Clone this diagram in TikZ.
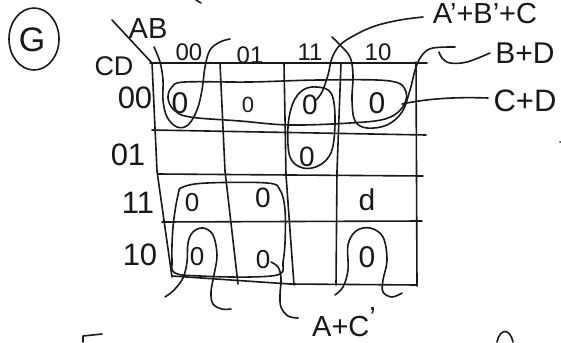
\documentclass[tikz,border=0pt]{standalone}
\usepackage{fontspec}
\setmainfont{Liberation Sans}
\begin{document}
\begin{tikzpicture}[x=1pt,y=-1pt]
\tikzset{
  hand/.style={line width=1.6pt, line cap=round, line join=round, draw=black!90},
  txt/.style={inner sep=0pt, outer sep=0pt, text=black!90},
  fs/.style={font=\fontsize{#1}{#1}\selectfont},
}
\useasboundingbox[fill=white] (0,0) rectangle (561,342);

% circled G
\draw[hand] (34,39) ellipse (25 and 31);
\node[txt,fs=34] (g) at (32,40) {G};

% header diagonal and labels
\draw[hand] (112,20) -- (152,63);
\node[txt,fs=29] (ab) at (148,29) {AB};
\node[txt,fs=27] (cd) at (114,66) {CD};

% column labels
\node[txt,fs=24] (c00) at (189,52) {00};
\node[txt,fs=24] (c01) at (250,55) {01};
\node[txt,fs=24] (c11) at (310,52) {11};
\node[txt,fs=24] (c10) at (378,52) {10};
% row labels
\node[txt,fs=31] (r00) at (135,98) {00};
\node[txt,fs=31] (r01) at (128,155) {01};
\node[txt,fs=31] (r11) at (138,203) {11};
\node[txt,fs=31] (r10) at (140,255) {10};

% grid
\draw[hand] (150,63) -- (427,63);
\draw[hand] (152,130) -- (426,135);
\draw[hand] (158,174) -- (423,176);
\draw[hand] (162,222) -- (422,221);
\draw[hand] (172,276) -- (290,284) -- (417,285);
\draw[hand] (152,63) -- (157,171) -- (172,277);
\draw[hand] (220,63) -- (225,171) -- (238,284);
\draw[hand] (284,63) -- (286,175) -- (294,285);
\draw[hand] (341,63) -- (337,171) -- (336,285);
\draw[hand] (416,62) -- (417,286);

% cell values
\node[txt,fs=30] (v1) at (180,103) {0};
\node[txt,fs=22] (v2) at (248,105) {0};
\node[txt,fs=28] (v3) at (310,105) {0};
\node[txt,fs=30] (v4) at (377,103) {0};
\node[txt,fs=28] (v5) at (307,157) {0};
\node[txt,fs=26] (v6) at (192,203) {0};
\node[txt,fs=28] (v7) at (263,198) {0};
\node[txt,fs=30] (v8) at (367,200) {d};
\node[txt,fs=26] (v9) at (197,257) {0};
\node[txt,fs=26] (v10) at (263,260) {0};
\node[txt,fs=30] (v11) at (367,257) {0};

% C+D loop and leader
\draw[hand] plot[smooth cycle, tension=0.6] coordinates {(185,82) (250,82) (320,80) (390,81) (406,92) (402,108) (385,119) (350,123) (290,125) (240,121) (190,117) (174,110) (168,98) (172,87)};
\draw[hand] (402,104) .. controls (430,98) and (460,97) .. (488,98);
\node[txt,fs=31] (lcd) at (525,101) {C+D};

% B+D corner loops
\draw[hand] plot[smooth, tension=0.6] coordinates {(154,47) (160,62) (163,80) (163,100) (167,117) (177,127) (188,125) (197,110) (202,90) (205,67) (210,50) (220,42) (230,39)};
\draw[hand] plot[smooth, tension=0.6] coordinates {(332,37) (340,45) (350,57) (353,75) (352,100) (355,121) (367,128) (387,125) (402,112) (410,90) (416,67) (423,54) (433,48) (455,47)};
\draw[hand] plot[smooth, tension=0.6] coordinates {(165,297) (174,290) (183,278) (187,262) (188,243) (193,232) (203,228) (213,235) (217,255) (214,275) (211,292) (213,304) (222,309) (231,309)};
\draw[hand] plot[smooth, tension=0.6] coordinates {(335,295) (343,287) (348,270) (348,245) (356,231) (370,228) (383,237) (387,260) (383,280) (383,292) (392,297) (402,293)};
\draw[hand] plot[smooth, tension=0.6] coordinates {(439,52) (442,58) (450,63) (467,62) (490,53)};
\node[txt,fs=30] (lbd) at (525,53) {B+D};

% A'+B'+C loop and leader
\draw[hand] plot[smooth cycle, tension=0.6] coordinates {(317,87) (331,93) (335,117) (332,150) (320,165) (303,168) (290,157) (288,127) (293,103) (303,90)};
\draw[hand] plot[smooth, tension=0.6] coordinates {(423,17) (400,20) (375,26) (355,35) (340,45) (332,58) (328,75) (322,92) (316,100)};
\node[txt,fs=29] (labc) at (485,14) {A'+B'+C};

% A+C' loop and leader
\draw[hand] plot[smooth cycle, tension=0.6] coordinates {(183,187) (207,183) (267,183) (280,190) (285,210) (285,243) (283,262) (280,274) (250,277) (200,276) (175,273) (172,260) (173,227) (178,195)};
\draw[hand] plot[smooth, tension=0.6] coordinates {(271,262) (278,267) (281,278) (280,295) (281,307) (288,316) (298,318)};
\node[txt,fs=29] (lac) at (344,322) {A+C\raisebox{0.3em}{'}};

% fragments of neighbouring writing
\draw[hand] (83,342) -- (83,336) -- (102,334);
\draw[hand] (497,342) .. controls (500,328) and (510,328) .. (513,342);
\draw[hand] (196,0) -- (201,3);
\fill[black!80] (560,142) circle (1);
\end{tikzpicture}
\end{document}
